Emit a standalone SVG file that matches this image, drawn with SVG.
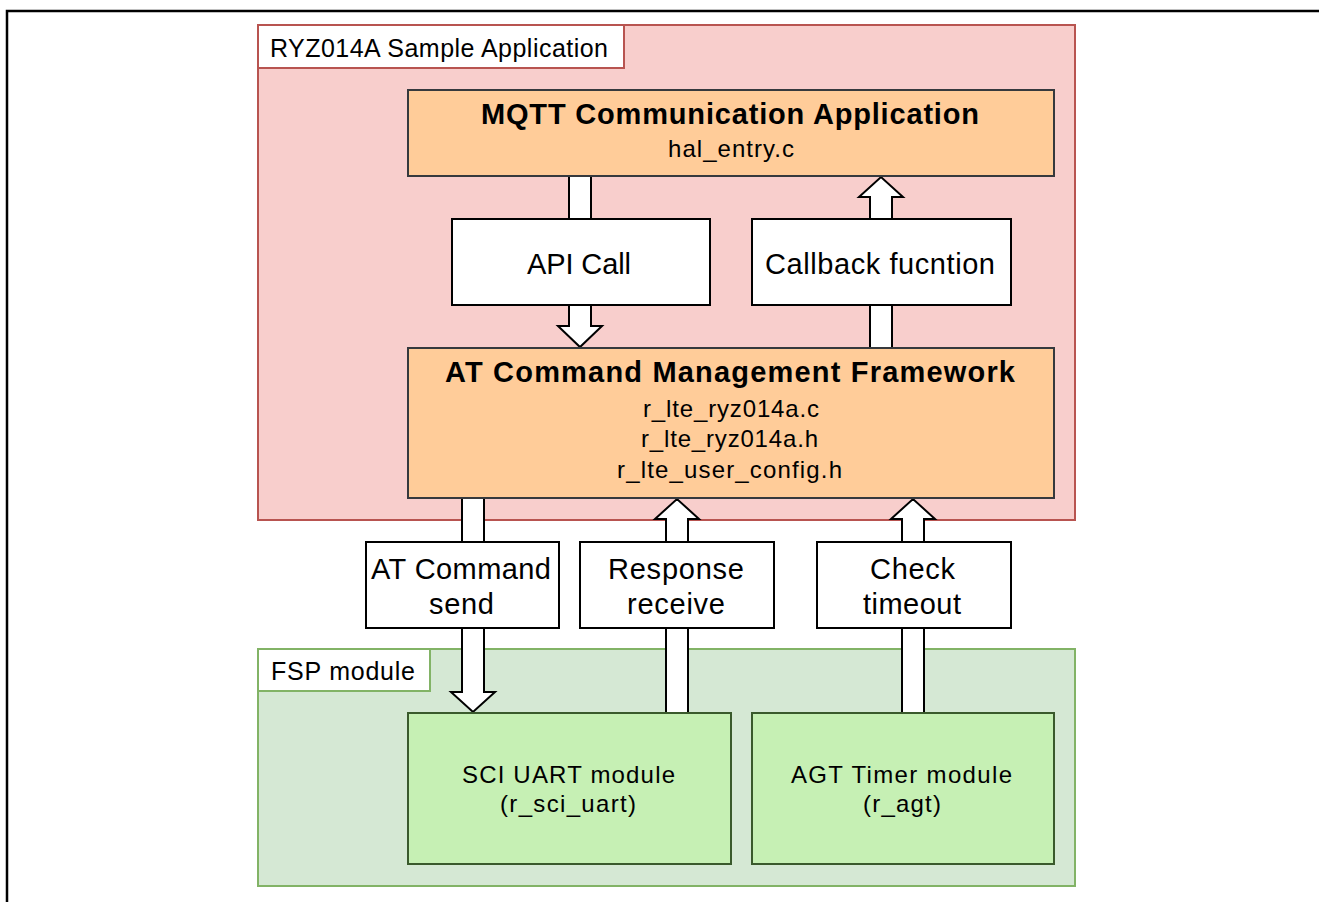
<svg xmlns="http://www.w3.org/2000/svg" width="1319" height="902" viewBox="0 0 1319 902">
  <style>
    text { font-family: "Liberation Sans", Arial, sans-serif; fill: #000; }
    .tab { font-size: 25px; }
    .title { font-size: 29px; font-weight: bold; }
    .file { font-size: 24px; }
    .lbl { font-size: 29px; }
    .mod { font-size: 24px; }
    .orange { fill: #ffcc99; stroke: #36393d; stroke-width: 2; }
    .white { fill: #ffffff; stroke: #000000; stroke-width: 2; }
    .green { fill: #c6f0b4; stroke: #3a5a2c; stroke-width: 2; }
    .arrow { fill: #ffffff; stroke: #000000; stroke-width: 2; stroke-linejoin: miter; }
  </style>
  <rect x="0" y="0" width="1319" height="902" fill="#ffffff"/>
  <polyline points="7,902 7,11 1319,11" fill="none" stroke="#000000" stroke-width="2.5"/>

  <g id="container-app">
    <rect x="258" y="25" width="817" height="495" fill="#f8cecc" stroke="#b85450" stroke-width="2"/>
    <rect x="258" y="25" width="366" height="43" fill="#ffffff" stroke="#b85450" stroke-width="2"/>
    <text class="tab" x="270" y="57" textLength="338" lengthAdjust="spacing">RYZ014A Sample Application</text>
  </g>
  <g id="container-fsp">
    <rect x="258" y="649" width="817" height="237" fill="#d5e8d4" stroke="#82b366" stroke-width="2"/>
    <rect x="258" y="649" width="172" height="42" fill="#ffffff" stroke="#82b366" stroke-width="2"/>
    <text class="tab" x="271" y="680" textLength="144" lengthAdjust="spacing">FSP module</text>
  </g>

  <g id="connectors">
    <!-- API Call: down -->
    <rect class="arrow" x="569" y="176" width="22" height="43"/>
    <polygon class="arrow" points="569,305 591,305 591,326 602,326 580,347 558,326 569,326"/>
    <!-- Callback: up -->
    <rect class="arrow" x="870" y="305" width="22" height="43"/>
    <polygon class="arrow" points="870,219 870,197 859,197 881,177 903,197 892,197 892,219"/>
    <!-- AT Command send: down -->
    <rect class="arrow" x="462" y="498" width="22" height="44"/>
    <polygon class="arrow" points="462,628 484,628 484,692 495,692 473,712 451,692 462,692"/>
    <!-- Response receive: up -->
    <rect class="arrow" x="666" y="628" width="22" height="85"/>
    <polygon class="arrow" points="666,542 666,519 655,519 677,499 699,519 688,519 688,542"/>
    <!-- Check timeout: up -->
    <rect class="arrow" x="902" y="628" width="22" height="85"/>
    <polygon class="arrow" points="902,542 902,519 891,519 913,499 935,519 924,519 924,542"/>
  </g>

  <g id="node-mqtt">
    <rect class="orange" x="408" y="90" width="646" height="86"/>
    <text class="title" x="481" y="124" textLength="498" lengthAdjust="spacing">MQTT Communication Application</text>
    <text class="file" x="668" y="157" textLength="126" lengthAdjust="spacing">hal_entry.c</text>
  </g>
  <g id="node-api-call">
    <rect class="white" x="452" y="219" width="258" height="86"/>
    <text class="lbl" x="527" y="274" textLength="104" lengthAdjust="spacing">API Call</text>
  </g>
  <g id="node-callback">
    <rect class="white" x="752" y="219" width="259" height="86"/>
    <text class="lbl" x="765" y="274" textLength="230" lengthAdjust="spacing">Callback fucntion</text>
  </g>
  <g id="node-at-framework">
    <rect class="orange" x="408" y="348" width="646" height="150"/>
    <text class="title" x="445" y="382" textLength="570" lengthAdjust="spacing">AT Command Management Framework</text>
    <text class="file" x="643" y="417" textLength="176" lengthAdjust="spacing">r_lte_ryz014a.c</text>
    <text class="file" x="641" y="447" textLength="177" lengthAdjust="spacing">r_lte_ryz014a.h</text>
    <text class="file" x="617" y="478" textLength="225" lengthAdjust="spacing">r_lte_user_config.h</text>
  </g>
  <g id="node-at-send">
    <rect class="white" x="366" y="542" width="193" height="86"/>
    <text class="lbl" x="371" y="579" textLength="180" lengthAdjust="spacing">AT Command</text>
    <text class="lbl" x="429" y="614" textLength="65" lengthAdjust="spacing">send</text>
  </g>
  <g id="node-response">
    <rect class="white" x="580" y="542" width="194" height="86"/>
    <text class="lbl" x="608" y="579" textLength="136" lengthAdjust="spacing">Response</text>
    <text class="lbl" x="627" y="614" textLength="98" lengthAdjust="spacing">receive</text>
  </g>
  <g id="node-check-timeout">
    <rect class="white" x="817" y="542" width="194" height="86"/>
    <text class="lbl" x="870" y="579" textLength="85" lengthAdjust="spacing">Check</text>
    <text class="lbl" x="863" y="614" textLength="98" lengthAdjust="spacing">timeout</text>
  </g>
  <g id="node-sci-uart">
    <rect class="green" x="408" y="713" width="323" height="151"/>
    <text class="mod" x="462" y="783" textLength="213" lengthAdjust="spacing">SCI UART module</text>
    <text class="mod" x="500" y="812" textLength="136" lengthAdjust="spacing">(r_sci_uart)</text>
  </g>
  <g id="node-agt-timer">
    <rect class="green" x="752" y="713" width="302" height="151"/>
    <text class="mod" x="791" y="783" textLength="221" lengthAdjust="spacing">AGT Timer module</text>
    <text class="mod" x="863" y="812" textLength="78" lengthAdjust="spacing">(r_agt)</text>
  </g>
</svg>
